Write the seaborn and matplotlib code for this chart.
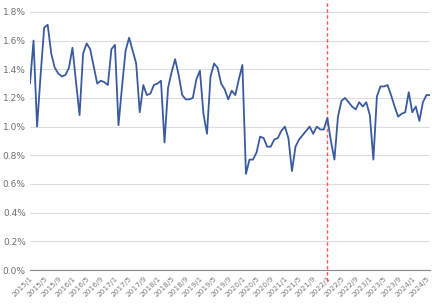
import numpy as np
import pandas as pd
import matplotlib
matplotlib.use("Agg")
import matplotlib.pyplot as plt
import seaborn as sns

# monthly ratio (%) from 2015/1 to 2024/6
ratio_2015_2019 = [1.30, 1.60, 1.00, 1.36, 1.69, 1.71, 1.51, 1.41, 1.37, 1.35, 1.36, 1.41,
                   1.55, 1.31, 1.08, 1.51, 1.58, 1.54, 1.42, 1.30, 1.32, 1.31, 1.29, 1.54,
                   1.57, 1.01, 1.28, 1.53, 1.62, 1.53, 1.44, 1.10, 1.29, 1.22, 1.23, 1.29,
                   1.30, 1.32, 0.89, 1.27, 1.38, 1.47, 1.36, 1.22, 1.19, 1.19, 1.20, 1.33,
                   1.39, 1.09, 0.95, 1.35, 1.44, 1.41, 1.30, 1.26, 1.19, 1.25, 1.22, 1.33]
ratio_2020_2024 = [1.43, 0.67, 0.77, 0.77, 0.82, 0.93, 0.92, 0.86, 0.86, 0.91, 0.92, 0.97,
                   1.00, 0.92, 0.69, 0.86, 0.91, 0.94, 0.97, 1.00, 0.95, 1.00, 0.98, 0.98,
                   1.06, 0.90, 0.77, 1.07, 1.18, 1.20, 1.17, 1.14, 1.12, 1.17, 1.14, 1.17,
                   1.08, 0.77, 1.21, 1.28, 1.28, 1.29, 1.22, 1.14, 1.07, 1.09, 1.10, 1.24,
                   1.10, 1.14, 1.04, 1.17, 1.22, 1.22]
ratio = ratio_2015_2019 + ratio_2020_2024

months = pd.period_range("2015-01", periods=len(ratio), freq="M")
labels = [f"{p.year}/{p.month}" for p in months]
df = pd.DataFrame({"idx": range(len(ratio)), "ratio": ratio})

marker_month = "2022/1"
yticks = [0.0, 0.2, 0.4, 0.6, 0.8, 1.0, 1.2, 1.4, 1.6, 1.8]

sns.set_style("white")
plt.rcParams['font.family'] = ['DejaVu Sans']

fig = plt.figure(figsize=(4.32, 3.06), dpi=100)
ax = fig.add_axes([30 / 432, 36 / 306, 400 / 432, 270 / 306])

sns.lineplot(data=df, x="idx", y="ratio", ax=ax, color="#3A5BA0", linewidth=1.3)

# red dashed marker, runs a little past the axis line
ax.axvline(labels.index(marker_month), ymin=-0.04, ymax=1, color="#FF3B3B",
           alpha=0.85, linestyle=(0, (2.5, 1.8)), linewidth=1.0, zorder=1, clip_on=False)

ax.set_ylim(0, 1.883)
ax.set_xlim(0, len(ratio) - 1)
ax.set_yticks(yticks)
ax.set_yticklabels([f"{v:.1f}%" for v in yticks], fontsize=6.5, color="#6E6E6E")
tick_pos = list(range(0, len(ratio), 4))
ax.set_xticks(tick_pos)
ax.set_xticklabels([labels[i] for i in tick_pos], rotation=45, ha="right",
                   rotation_mode="anchor", fontsize=5.3, color="#7A7A7A")
ax.tick_params(axis="x", length=2, width=0.8, color="#7F7F7F", pad=2, direction="out")
ax.tick_params(axis="y", length=0, pad=3)
ax.grid(axis="y", color="#DDDDDD", linewidth=0.8)
ax.set_axisbelow(True)
for s in ["top", "right", "left"]:
    ax.spines[s].set_visible(False)
ax.spines["bottom"].set_color("#8C8C8C")
ax.spines["bottom"].set_linewidth(0.8)
ax.set_xlabel("")
ax.set_ylabel("")

fig.savefig("out.png", dpi=100)
